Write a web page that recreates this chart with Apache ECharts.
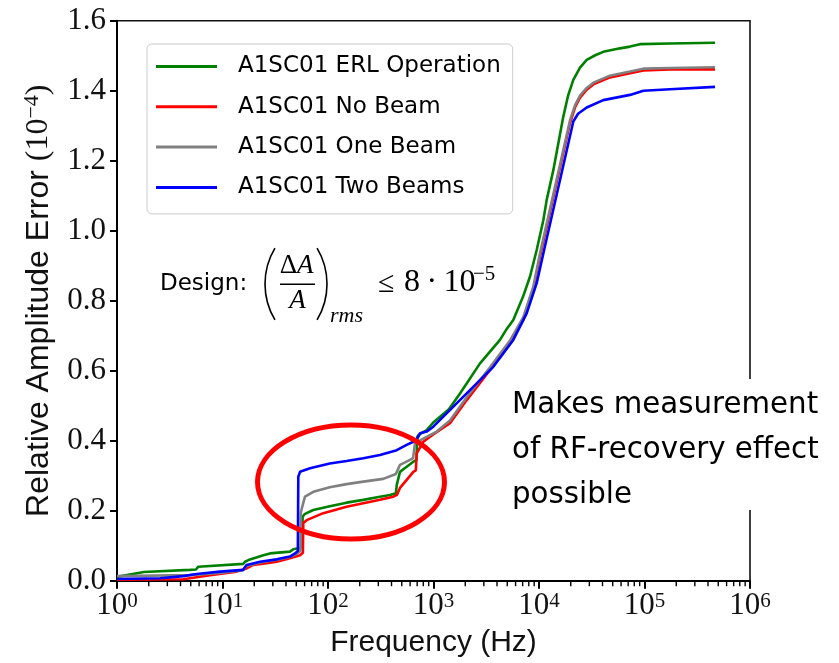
<!DOCTYPE html>
<html><head><meta charset="utf-8">
<script src="https://cdn.jsdelivr.net/npm/echarts@6/dist/echarts.min.js"></script>
<style>html,body{margin:0;padding:0;background:#fff}#c{width:839px;height:663px}</style>
</head><body><div id="c"></div>
<script>
const seriesNames = ['A1SC01 ERL Operation', 'A1SC01 No Beam', 'A1SC01 One Beam', 'A1SC01 Two Beams'];
const seriesColors = ['#008000', '#ff0000', '#808080', '#0000ff'];

const freqGreen = [1, 1.8, 4.9, 5.6, 5.9, 15.7, 16.5, 17.6, 24.4, 28.2, 43.6, 46.9, 56.5, 57.5, 60, 72.5, 104, 150, 216, 311, 387, 440, 448, 481, 537, 557, 644, 690, 700, 718, 861, 995, 1400, 1783, 2761, 4266, 4864, 5705, 7050, 8220, 9510, 10990, 11830, 13670, 17000, 18830, 21140, 24470, 28330, 34500, 40670, 58580, 72880, 90600, 174500, 466000];
const valGreen  = [0.011, 0.025, 0.031, 0.032, 0.040, 0.048, 0.055, 0.059, 0.073, 0.078, 0.083, 0.090, 0.095, 0.183, 0.190, 0.202, 0.213, 0.223, 0.231, 0.240, 0.245, 0.250, 0.273, 0.311, 0.322, 0.326, 0.340, 0.345, 0.410, 0.416, 0.430, 0.452, 0.490, 0.535, 0.621, 0.688, 0.716, 0.745, 0.811, 0.869, 0.945, 1.030, 1.088, 1.173, 1.326, 1.385, 1.431, 1.466, 1.488, 1.502, 1.511, 1.521, 1.526, 1.533, 1.535, 1.537];

const freqRed = [1, 4.25, 5.69, 7.62, 13.6, 16.9, 19.6, 26.2, 32.6, 43.6, 54.3, 57.8, 58.3, 62.8, 90.2, 150, 216, 311, 416, 450, 481, 557, 644, 680, 693, 800, 995, 1433, 2064, 3433, 5309, 6252, 7100, 8830, 10210, 19660, 21930, 24470, 28330, 32760, 47060, 72880, 97500, 174500, 466000];
const valRed  = [0.003, 0.004, 0.010, 0.016, 0.026, 0.035, 0.045, 0.050, 0.054, 0.064, 0.073, 0.080, 0.165, 0.173, 0.193, 0.211, 0.221, 0.231, 0.240, 0.245, 0.265, 0.288, 0.311, 0.315, 0.364, 0.397, 0.418, 0.450, 0.516, 0.602, 0.678, 0.716, 0.745, 0.831, 0.926, 1.307, 1.352, 1.380, 1.403, 1.418, 1.438, 1.450, 1.458, 1.461, 1.461];

const freqGray = [1, 4.9, 9.5, 15.7, 16.9, 22.7, 32.6, 43.6, 50, 54.8, 55.3, 56.3, 60.5, 72.5, 104, 150, 216, 334, 416, 440, 481, 599, 640, 668, 861, 1072, 1433, 2064, 3433, 5309, 7100, 8830, 10210, 19660, 21930, 24470, 28330, 32760, 47060, 72880, 97500, 174500, 466000];
const valGray  = [0.013, 0.016, 0.022, 0.030, 0.042, 0.052, 0.060, 0.068, 0.076, 0.085, 0.195, 0.205, 0.240, 0.254, 0.267, 0.276, 0.283, 0.291, 0.302, 0.305, 0.331, 0.345, 0.350, 0.393, 0.411, 0.426, 0.458, 0.524, 0.610, 0.686, 0.753, 0.840, 0.935, 1.315, 1.358, 1.386, 1.408, 1.423, 1.443, 1.455, 1.463, 1.465, 1.467];

const freqBlue = [1, 2.56, 4.25, 5.69, 9.47, 15.7, 16.9, 22.7, 32.6, 43.6, 48.7, 51.8, 52.3, 54.3, 67.5, 104, 150, 216, 311, 448, 557, 644, 700, 745, 861, 995, 1239, 2064, 3690, 5705, 7640, 9510, 10990, 21140, 23440, 28330, 40670, 72880, 97500, 174500, 466000];
const valBlue  = [0.005, 0.007, 0.013, 0.019, 0.026, 0.031, 0.045, 0.054, 0.061, 0.069, 0.078, 0.085, 0.297, 0.311, 0.321, 0.335, 0.342, 0.350, 0.359, 0.373, 0.388, 0.397, 0.405, 0.421, 0.426, 0.440, 0.469, 0.535, 0.611, 0.688, 0.764, 0.850, 0.935, 1.312, 1.334, 1.352, 1.373, 1.388, 1.400, 1.404, 1.411];

const xMajorTicks = [1, 10, 100, 1000, 10000, 100000, 1000000];
const xMinorMultipliers = [2, 3, 4, 5, 6, 7, 8, 9];
const yTicks = [0, 0.2, 0.4, 0.6, 0.8, 1.0, 1.2, 1.4, 1.6];

const xMinorTicks = [];
xMajorTicks.slice(0, -1).forEach(d => xMinorMultipliers.forEach(m => xMinorTicks.push(d * m)));

const freqs = [freqGreen, freqRed, freqGray, freqBlue];
const vals = [valGreen, valRed, valGray, valBlue];

const chart = echarts.init(document.getElementById('c'), null, {renderer: 'canvas'});
const serif = '"Liberation Serif", "DejaVu Serif", serif';
const sans = '"DejaVu Sans", sans-serif';
const lsans = '"Liberation Sans", sans-serif';

const lineSeries = seriesNames.map((n, i) => ({
  name: n, type: 'line',
  showSymbol: false, symbol: 'none',
  lineStyle: {color: seriesColors[i], width: 2.6},
  itemStyle: {color: seriesColors[i]},
  data: freqs[i].map((f, k) => [f, vals[i][k]]),
  z: 2 + i
}));

// minor tick marks of the log x axis, placed through the axis scale
const minorTickSeries = {
  name: 'minorTicks', type: 'custom', silent: true, clip: false, z: 10,
  data: xMinorTicks.map(v => [v, yTicks[0]]),
  renderItem: (params, api) => {
    const p = api.coord([api.value(0), api.value(1)]);
    return {type: 'line', shape: {x1: p[0], y1: p[1] + 1, x2: p[0], y2: p[1] + 5.5}, style: {stroke: '#000', lineWidth: 1.4}};
  }
};

const option = {
  animation: false,
  backgroundColor: '#fff',
  grid: {left: 117, right: 89, top: 20.7, bottom: 82.3, show: true, borderColor: '#111', borderWidth: 1.6, backgroundColor: 'transparent'},
  legend: {
    orient: 'vertical', left: 147, top: 44, padding: [11, 12, 15, 9],
    itemWidth: 61, itemHeight: 3, itemGap: 17.3, icon: 'rect',
    backgroundColor: 'rgba(255,255,255,0.8)', borderColor: '#cccccc', borderWidth: 1, borderRadius: 5,
    textStyle: {fontFamily: sans, fontSize: 23, lineHeight: 22, color: '#000', padding: [0, 0, 0, 16]},
    data: seriesNames
  },
  xAxis: {
    type: 'log', logBase: 10, min: xMajorTicks[0], max: xMajorTicks[xMajorTicks.length - 1], interval: 1, splitNumber: 6,
    axisLine: {show: true, onZero: false, lineStyle: {color: '#000', width: 2}},
    axisTick: {show: true, inside: false, length: 8, lineStyle: {color: '#000', width: 2}},
    axisLabel: {
      show: true, margin: 10,
      formatter: v => '{b|10}{s|' + Math.round(Math.log10(v)) + '}',
      rich: {
        b: {fontFamily: serif, fontSize: 31, lineHeight: 31, color: '#111'},
        s: {fontFamily: serif, fontSize: 21, lineHeight: 12, verticalAlign: 'top', color: '#111'}
      }
    },
    splitLine: {show: false},
    name: 'Frequency (Hz)', nameLocation: 'middle', nameGap: 47,
    nameTextStyle: {fontFamily: lsans, fontSize: 30, color: '#111'}
  },
  yAxis: {
    type: 'value', min: yTicks[0], max: yTicks[yTicks.length - 1], interval: 0.2,
    axisLine: {show: true, lineStyle: {color: '#000', width: 2}},
    axisTick: {show: true, inside: false, length: 7, lineStyle: {color: '#000', width: 2}},
    axisLabel: {margin: 11, fontFamily: serif, fontSize: 31, color: '#111', formatter: v => v.toFixed(1)},
    splitLine: {show: false},
    name: '{t|Relative Amplitude Error }{m|(10}{s|−4}{m|)}', nameLocation: 'middle', nameGap: 60, nameRotate: 90,
    nameTextStyle: {
      rich: {
        t: {fontFamily: lsans, fontSize: 32, lineHeight: 36, color: '#111'},
        m: {fontFamily: serif, fontSize: 32, lineHeight: 36, color: '#111'},
        s: {fontFamily: serif, fontSize: 22, lineHeight: 16, verticalAlign: 'top', color: '#111'}
      }
    }
  },
  series: lineSeries.concat([minorTickSeries]),
  graphic: [
    {type: 'ellipse', shape: {cx: 351, cy: 482, rx: 93.5, ry: 57}, style: {fill: 'none', stroke: '#ff0000', lineWidth: 5}, z: 50},
    {type: 'rect', shape: {x: 505, y: 379, width: 334, height: 131}, style: {fill: '#fff'}, z: 60},
    {type: 'text', x: 512, y: 405, style: {text: 'Makes measurement', fontFamily: sans, fontSize: 29.3, fill: '#000', align: 'left', verticalAlign: 'middle'}, z: 61},
    {type: 'text', x: 512, y: 450, style: {text: 'of RF-recovery effect', fontFamily: sans, fontSize: 29.3, fill: '#000', align: 'left', verticalAlign: 'middle'}, z: 61},
    {type: 'text', x: 512, y: 495, style: {text: 'possible', fontFamily: sans, fontSize: 29.3, fill: '#000', align: 'left', verticalAlign: 'middle'}, z: 61},
    {type: 'text', x: 160, y: 284, style: {text: 'Design:', fontFamily: sans, fontSize: 23, fill: '#000', align: 'left', verticalAlign: 'middle'}, z: 61},
    {type: 'arc', shape: {cx: 334.8, cy: 284, r: 69.8, startAngle: Math.PI - 0.54, endAngle: Math.PI + 0.54}, style: {fill: 'none', stroke: '#000', lineWidth: 1.6}, z: 61},
    {type: 'arc', shape: {cx: 257.2, cy: 284, r: 69.8, startAngle: -0.54, endAngle: 0.54}, style: {fill: 'none', stroke: '#000', lineWidth: 1.6}, z: 61},
    {type: 'text', x: 297, y: 266, style: {text: 'Δ', fontFamily: serif, fontSize: 27, fill: '#000', align: 'right', verticalAlign: 'middle'}, z: 61},
    {type: 'text', x: 297, y: 266, style: {text: 'A', fontFamily: serif, fontStyle: 'italic', fontSize: 27, fill: '#000', align: 'left', verticalAlign: 'middle'}, z: 61},
    {type: 'line', shape: {x1: 280, y1: 284.3, x2: 315, y2: 284.3}, style: {stroke: '#000', lineWidth: 1.5}, z: 61},
    {type: 'text', x: 297.5, y: 301, style: {text: 'A', fontFamily: serif, fontStyle: 'italic', fontSize: 27, fill: '#000', align: 'center', verticalAlign: 'middle'}, z: 61},
    {type: 'text', x: 330, y: 316, style: {text: 'rms', fontFamily: serif, fontStyle: 'italic', fontSize: 22, fill: '#000', align: 'left', verticalAlign: 'middle'}, z: 61},
    {type: 'text', x: 378, y: 284, style: {text: '≤', fontFamily: serif, fontSize: 30, fill: '#000', align: 'left', verticalAlign: 'middle'}, z: 61},
    {type: 'text', x: 404, y: 283, style: {text: '8\u2009·\u200910', fontFamily: serif, fontSize: 32, fill: '#000', align: 'left', verticalAlign: 'middle'}, z: 61},
    {type: 'text', x: 473, y: 274, style: {text: '−5', fontFamily: serif, fontSize: 21, fill: '#000', align: 'left', verticalAlign: 'middle'}, z: 61}
  ]
};
chart.setOption(option);
</script></body></html>
